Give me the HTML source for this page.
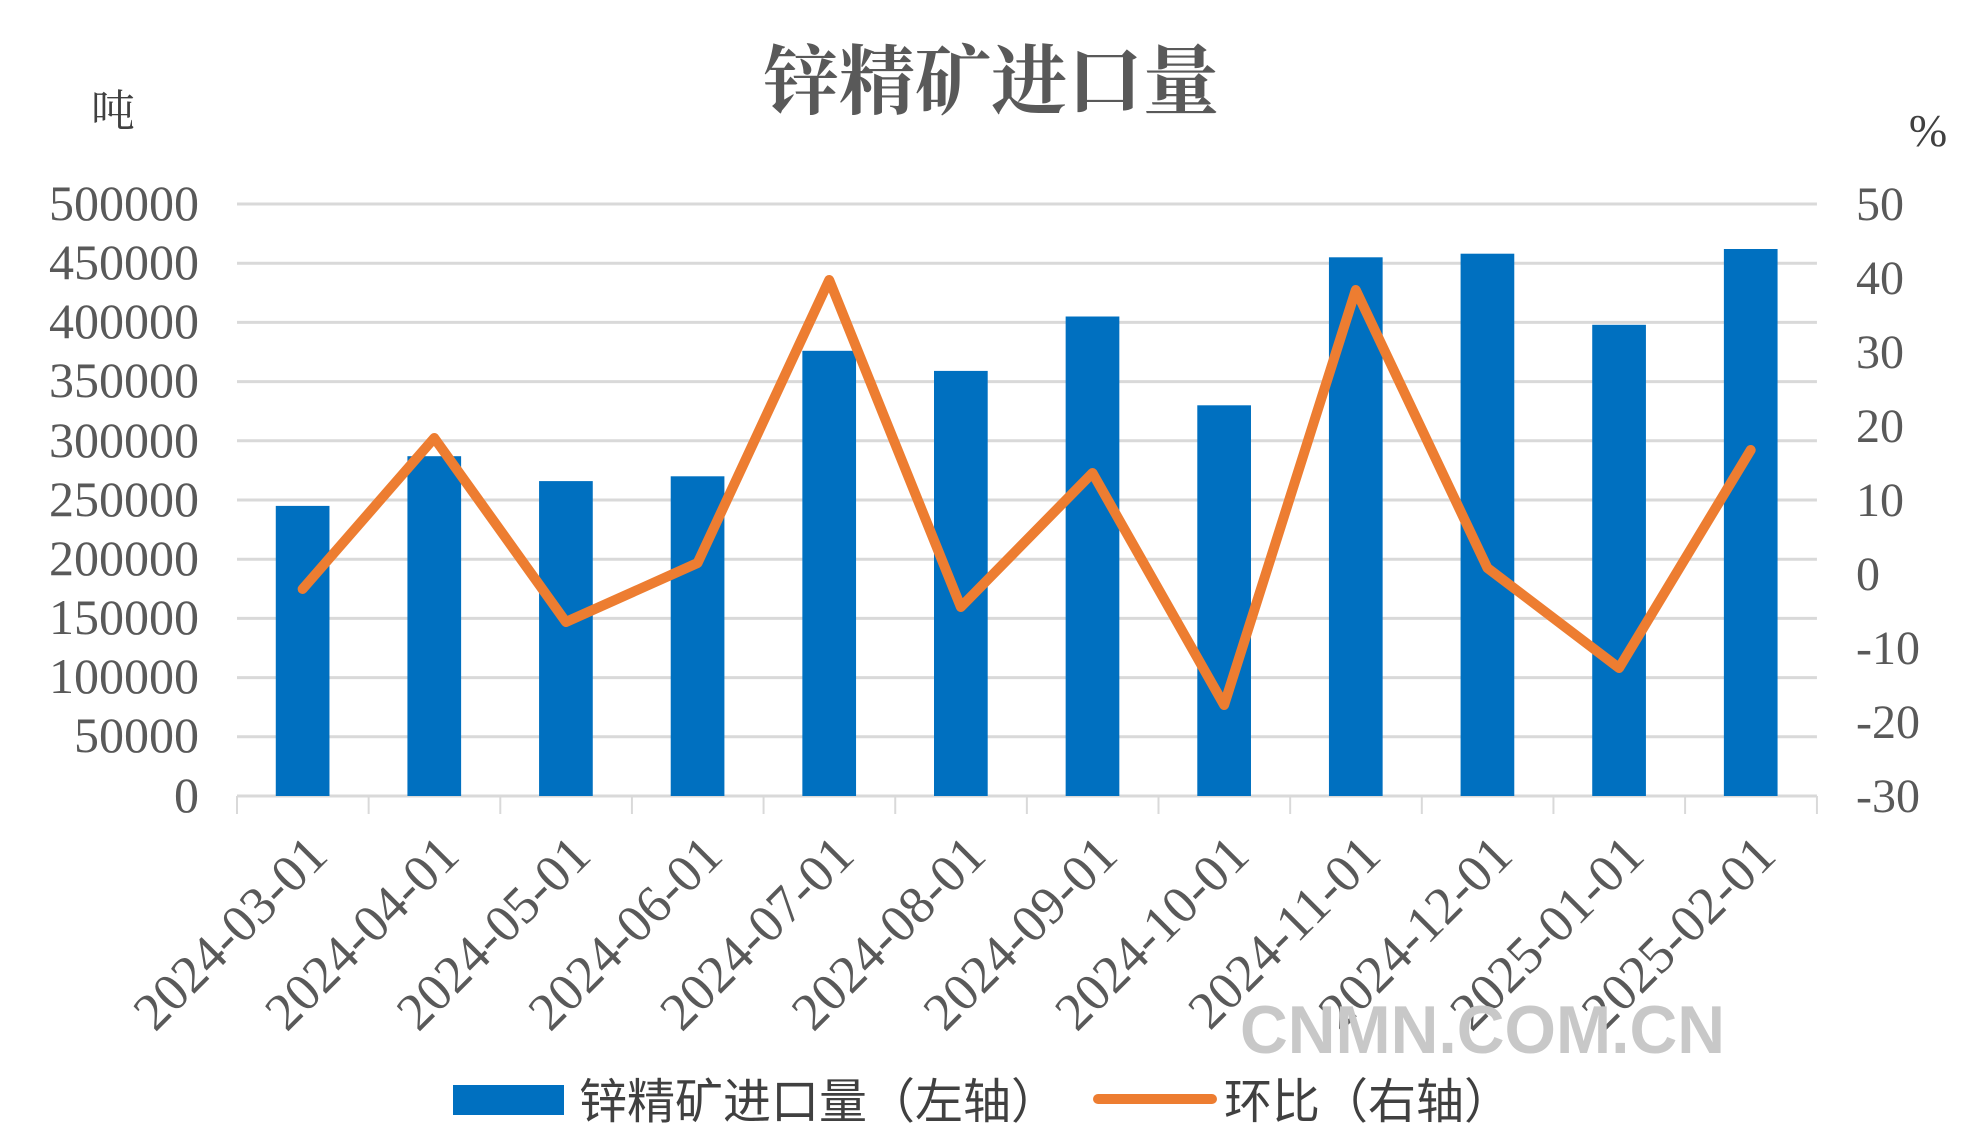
<!DOCTYPE html>
<html><head><meta charset="utf-8"><style>
html,body{margin:0;padding:0;background:#fff;}
svg{display:block;}
</style></head><body>
<svg width="1964" height="1141" viewBox="0 0 1964 1141" xmlns="http://www.w3.org/2000/svg">
<rect width="1964" height="1141" fill="#fff"/>
<text x="991" y="108" text-anchor="middle" font-family="'Liberation Serif','Noto Serif CJK SC',serif" font-size="76" font-weight="bold" fill="#595959">锌精矿进口量</text>
<text x="113" y="126" text-anchor="middle" font-family="'Liberation Serif','Noto Serif CJK SC',serif" font-size="44" fill="#404040">吨</text>
<text x="1928" y="146" text-anchor="middle" font-family="'Liberation Serif',serif" font-size="46" fill="#404040">%</text>
<g transform="translate(237,0) scale(0.9943,1) translate(-237,0)">
<g stroke="#d9d9d9" stroke-width="3">
<line x1="237" y1="204" x2="1826" y2="204"/>
<line x1="237" y1="263.2" x2="1826" y2="263.2"/>
<line x1="237" y1="322.4" x2="1826" y2="322.4"/>
<line x1="237" y1="381.6" x2="1826" y2="381.6"/>
<line x1="237" y1="440.8" x2="1826" y2="440.8"/>
<line x1="237" y1="500" x2="1826" y2="500"/>
<line x1="237" y1="559.2" x2="1826" y2="559.2"/>
<line x1="237" y1="618.4" x2="1826" y2="618.4"/>
<line x1="237" y1="677.6" x2="1826" y2="677.6"/>
<line x1="237" y1="736.8" x2="1826" y2="736.8"/>
<line x1="237" y1="796" x2="1826" y2="796"/>
</g>
<g stroke="#d9d9d9" stroke-width="2">
<line x1="237" y1="796" x2="237" y2="814"/><line x1="369.4" y1="796" x2="369.4" y2="814"/><line x1="501.8" y1="796" x2="501.8" y2="814"/><line x1="634.2" y1="796" x2="634.2" y2="814"/><line x1="766.6" y1="796" x2="766.6" y2="814"/><line x1="899" y1="796" x2="899" y2="814"/><line x1="1031.4" y1="796" x2="1031.4" y2="814"/><line x1="1163.8" y1="796" x2="1163.8" y2="814"/><line x1="1296.2" y1="796" x2="1296.2" y2="814"/><line x1="1428.6" y1="796" x2="1428.6" y2="814"/><line x1="1561" y1="796" x2="1561" y2="814"/><line x1="1693.4" y1="796" x2="1693.4" y2="814"/><line x1="1826" y1="796" x2="1826" y2="814"/>
</g>
<g fill="#0070c0">
<rect x="276" y="505.9" width="54" height="290.1"/>
<rect x="408.4" y="456.2" width="54" height="339.8"/>
<rect x="540.8" y="481.1" width="54" height="314.9"/>
<rect x="673.2" y="476.3" width="54" height="319.7"/>
<rect x="805.6" y="350.8" width="54" height="445.2"/>
<rect x="938" y="370.9" width="54" height="425.1"/>
<rect x="1070.4" y="316.5" width="54" height="479.5"/>
<rect x="1202.8" y="405.3" width="54" height="390.7"/>
<rect x="1335.2" y="257.3" width="54" height="538.7"/>
<rect x="1467.6" y="253.7" width="54" height="542.3"/>
<rect x="1600" y="324.8" width="54" height="471.2"/>
<rect x="1732.4" y="249" width="54" height="547"/>
</g>
<polyline fill="none" stroke="#ed7d31" stroke-width="10" stroke-linejoin="round" stroke-linecap="round"
points="303,589 435.4,438 567.8,622 700.2,563 832.6,280 965,607 1097.4,473 1229.8,705 1362.2,290 1494.6,568 1627,668 1759.4,450"/>
</g>
<g font-family="'Liberation Serif',serif" font-size="50" fill="#595959" text-anchor="end">
<text x="199" y="220">500000</text><text x="199" y="279">450000</text><text x="199" y="338">400000</text><text x="199" y="397">350000</text><text x="199" y="457">300000</text><text x="199" y="516">250000</text><text x="199" y="575">200000</text><text x="199" y="634">150000</text><text x="199" y="693">100000</text><text x="199" y="752">50000</text><text x="199" y="812">0</text>
</g>
<g font-family="'Liberation Serif',serif" font-size="48" fill="#595959" text-anchor="start">
<text x="1856" y="220">50</text><text x="1856" y="294">40</text><text x="1856" y="368">30</text><text x="1856" y="442">20</text><text x="1856" y="516">10</text><text x="1856" y="590">0</text><text x="1856" y="664">-10</text><text x="1856" y="738">-20</text><text x="1856" y="812">-30</text>
</g>
<g font-family="'Liberation Serif',serif" font-size="53" fill="#595959" text-anchor="end">
<text transform="translate(330,858) rotate(-45)">2024-03-01</text>
<text transform="translate(461.6,858) rotate(-45)">2024-04-01</text>
<text transform="translate(593.3,858) rotate(-45)">2024-05-01</text>
<text transform="translate(725,858) rotate(-45)">2024-06-01</text>
<text transform="translate(856.6,858) rotate(-45)">2024-07-01</text>
<text transform="translate(988.3,858) rotate(-45)">2024-08-01</text>
<text transform="translate(1120,858) rotate(-45)">2024-09-01</text>
<text transform="translate(1251.6,858) rotate(-45)">2024-10-01</text>
<text transform="translate(1383.3,858) rotate(-45)">2024-11-01</text>
<text transform="translate(1515,858) rotate(-45)">2024-12-01</text>
<text transform="translate(1646.6,858) rotate(-45)">2025-01-01</text>
<text transform="translate(1778.3,858) rotate(-45)">2025-02-01</text>
</g>
<text x="1240" y="1053" font-family="'Liberation Sans',sans-serif" font-size="68" font-weight="bold" fill="#c8c8c8" textLength="485" lengthAdjust="spacingAndGlyphs">CNMN.COM.CN</text>
<rect x="453" y="1085" width="111" height="30" fill="#0070c0"/>
<text x="579" y="1118" font-family="'Liberation Sans','Noto Sans CJK SC',sans-serif" font-size="48" fill="#404040">锌精矿进口量（左轴）</text>
<line x1="1098" y1="1099" x2="1212" y2="1099" stroke="#ed7d31" stroke-width="10" stroke-linecap="round"/>
<text x="1224" y="1118" font-family="'Liberation Sans','Noto Sans CJK SC',sans-serif" font-size="48" fill="#404040">环比（右轴）</text>
</svg>
</body></html>
